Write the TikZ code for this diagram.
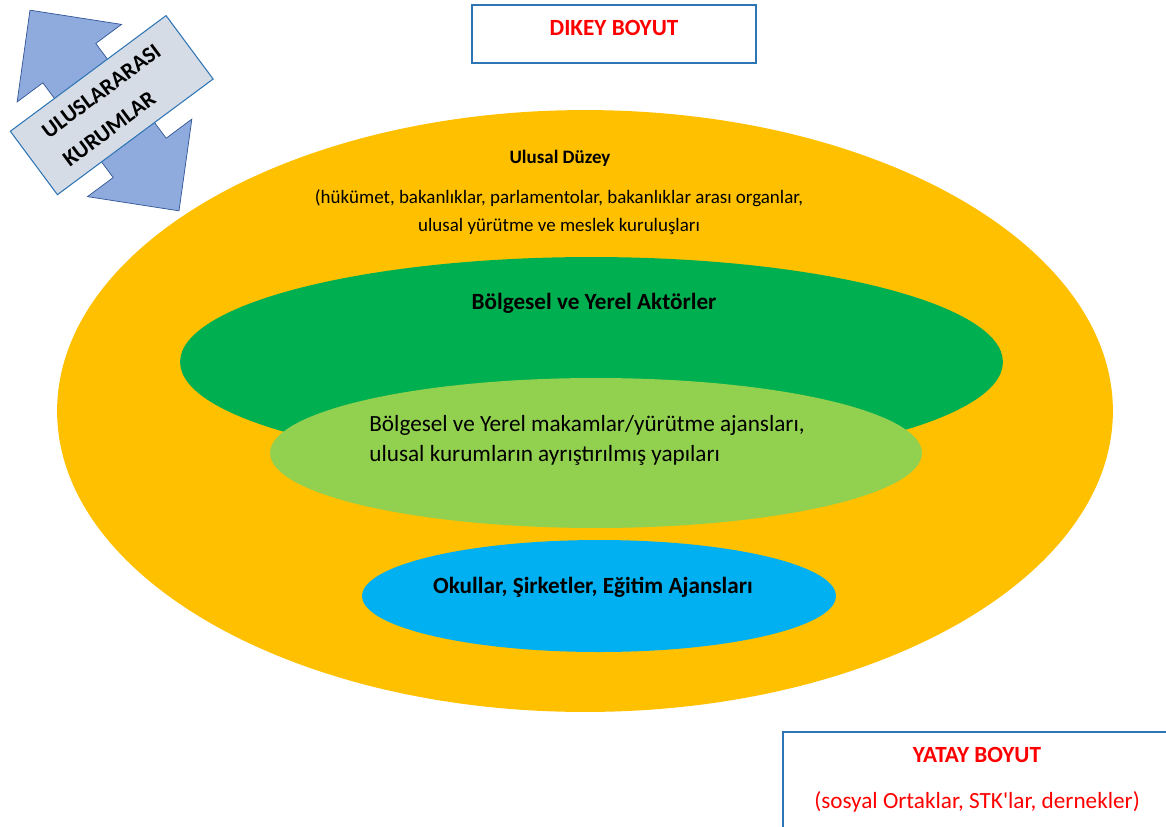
\documentclass[tikz,border=0pt]{standalone}
\usepackage{fontspec}
\setmainfont{Carlito}
\usetikzlibrary{shapes.geometric}
\definecolor{ulusalColor}{HTML}{FFC000}
\definecolor{bolgeColor}{HTML}{00B050}
\definecolor{makamColor}{HTML}{92D050}
\definecolor{okulColor}{HTML}{00B0F0}
\definecolor{kutuColor}{HTML}{2E75B6}
\definecolor{okColor}{HTML}{8FAADC}
\definecolor{okKenar}{HTML}{2F5597}
\definecolor{etiketColor}{HTML}{D6DCE5}
\definecolor{kirmizi}{HTML}{FF0000}
\newcommand{\tikzLevelNode}[5]{
  \node[ellipse,fill=#5,inner sep=0pt,minimum width=#3,minimum height=#4] (#1) at (#2) {};
}

\begin{document}
\begin{tikzpicture}[x=0.02cm,y=-0.02cm]
  \clip (0,0) rectangle (1166,826);

  \tikzLevelNode{ul}{585,411}{21.12cm}{12.04cm}{ulusalColor}
  \tikzLevelNode{bol}{591.5,362}{16.46cm}{4.2cm}{bolgeColor}
  \tikzLevelNode{mak}{596,453}{13.04cm}{3.0cm}{makamColor}
  \tikzLevelNode{okl}{599,596}{9.48cm}{2.24cm}{okulColor}

  \node[font=\bfseries\fontsize{10.8}{12}\selectfont] (ulbaslik) at (560,158) {Ulusal Düzey};
  \node[align=center,font=\fontsize{10.8}{15.9}\selectfont] (ulmetin) at (559,212)
    {(hükümet, bakanlıklar, parlamentolar, bakanlıklar arası organlar,\\ulusal yürütme ve meslek kuruluşları};
  \node[font=\bfseries\fontsize{13.2}{15}\selectfont] (bolmetin) at (594,303) {Bölgesel ve Yerel Aktörler};
  \node[align=left,font=\fontsize{13.2}{17}\selectfont] (makmetin) at (587,440)
    {Bölgesel ve Yerel makamlar/yürütme ajansları,\\ulusal kurumların ayrıştırılmış yapıları};
  \node[font=\bfseries\fontsize{13.2}{15}\selectfont] (oklmetin) at (593,587) {Okullar, Şirketler, Eğitim Ajansları};

  % dikey / yatay kutulari
  \node[draw=kutuColor,line width=0.8pt,fill=white,minimum width=5.68cm,minimum height=1.16cm] (dikey) at (614,34) {};
  \node[text=kirmizi,font=\bfseries\fontsize{13.2}{15}\selectfont] (dikeymetin) at (614,28) {DIKEY BOYUT};
  \draw[kutuColor,line width=0.8pt,fill=white] (783,835) -- (783,732) -- (1175,732);
  \node[text=kirmizi,align=center,font=\fontsize{13.2}{26}\selectfont] (yatay) at (977,780)
    {\textbf{YATAY BOYUT}\\(sosyal Ortaklar, STK\textquotesingle lar, dernekler)};

  \begin{scope}[shift={(104.5,110.5)},rotate=36.6]
  \draw[okKenar,fill=okColor,line join=miter] (-33,-59) -- (-65,-59) -- (0,-125) -- (65,-59) -- (33,-59)
    -- (33,59) -- (65,59) -- (0,125) -- (-65,59) -- (-33,59) -- cycle;
  \node[draw=kutuColor,line width=0.6pt,fill=etiketColor,rotate=36.6,minimum width=3.88cm,minimum height=1.58cm,
    align=left,font=\bfseries\fontsize{12.8}{20}\selectfont] (kurum) at (9,0) {ULUSLARARASI\\KURUMLAR};
  \end{scope}
\end{tikzpicture}
\end{document}
